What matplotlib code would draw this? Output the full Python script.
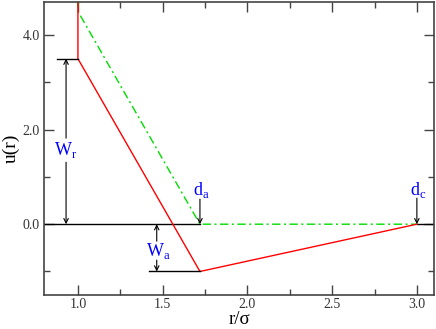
import matplotlib
matplotlib.use("Agg")
import matplotlib.pyplot as plt
from matplotlib.ticker import MultipleLocator

plt.rcParams['font.family'] = ['Liberation Serif', 'DejaVu Serif']
plt.rcParams['mathtext.fontset'] = 'custom'
plt.rcParams['mathtext.rm'] = 'Liberation Serif'

# data
red_r = [1.0, 1.0, 1.72, 3.0]
red_u = [4.8, 3.5, -1.0, 0.0]
green_r = [1.0, 1.0, 1.72, 3.0]
green_u = [4.8, 4.5, 0.0, 0.0]
zero_r1 = [0.8, 1.72]
zero_r2 = [3.0, 3.1]
Wr, Wa = 3.5, -1.0
da, dc = 1.72, 3.0
xticks = [1.0, 1.5, 2.0, 2.5, 3.0]
yticks = [0.0, 2.0, 4.0]

fig = plt.figure(figsize=(4.36, 3.29), dpi=100)
ax = fig.add_axes([0.101, 0.103, 0.894, 0.891])

ax.plot(zero_r1, [0, 0], color='black', lw=1)
ax.plot(zero_r2, [0, 0], color='black', lw=1)
ax.plot(green_r, green_u, color='#00dd00', lw=1, linestyle=(0, (6, 2.5, 1.5, 2.5)))
ax.plot(red_r, red_u, color='red', lw=1)

# W_r annotation
ax.plot([0.876, 1.0], [Wr, Wr], color='black', lw=1)
arrow = dict(arrowstyle='->', color='black', lw=0.8, shrinkA=0, shrinkB=0, mutation_scale=8)
ax.annotate('', xy=(0.93, Wr), xytext=(0.93, 1.82), arrowprops=arrow)
ax.annotate('', xy=(0.93, 0.0), xytext=(0.93, 1.31), arrowprops=arrow)
ax.text(0.93, 1.57, r'W$_{\rm r}$', color='blue', fontsize=13, ha='center', va='center')

# W_a annotation
ax.plot([1.42, da], [Wa, Wa], color='black', lw=1)
ax.annotate('', xy=(1.465, 0.0), xytext=(1.465, -0.36), arrowprops=arrow)
ax.annotate('', xy=(1.465, Wa), xytext=(1.465, -0.76), arrowprops=arrow)
ax.text(1.475, -0.56, r'W$_{\rm a}$', color='blue', fontsize=13, ha='center', va='center')

# d_a, d_c
ax.annotate('', xy=(da, 0.0), xytext=(da, 0.53), arrowprops=arrow)
ax.text(da + 0.01, 0.72, r'd$_{\rm a}$', color='blue', fontsize=13, ha='center', va='center')
ax.annotate('', xy=(dc, 0.0), xytext=(dc, 0.55), arrowprops=arrow)
ax.text(dc + 0.01, 0.72, r'd$_{\rm c}$', color='blue', fontsize=13, ha='center', va='center')

ax.set_xlim(0.8, 3.1)
ax.set_ylim(-1.5, 4.7)
ax.set_xticks(xticks)
ax.set_xticklabels([f'{v:.1f}' for v in xticks])
ax.set_yticks(yticks)
ax.set_yticklabels([f'{v:.1f}' for v in yticks])
ax.xaxis.set_minor_locator(MultipleLocator(0.25))
ax.yaxis.set_minor_locator(MultipleLocator(1.0))
ax.tick_params(which='both', direction='in', top=True, right=True, colors='#444444', labelcolor='#333333', labelsize=10)
ax.tick_params(which='major', length=7.5, width=1)
ax.tick_params(which='minor', length=4, width=1)
ax.tick_params(axis='x', pad=2)
ax.tick_params(axis='y', pad=3)
for s in ax.spines.values():
    s.set_color('#444444')
    s.set_linewidth(1.2)

ax.set_xlabel('r/σ', fontsize=13.5, labelpad=0)
ax.set_ylabel('u(r)', fontsize=14, labelpad=2)

fig.savefig('out.png', dpi=100)
